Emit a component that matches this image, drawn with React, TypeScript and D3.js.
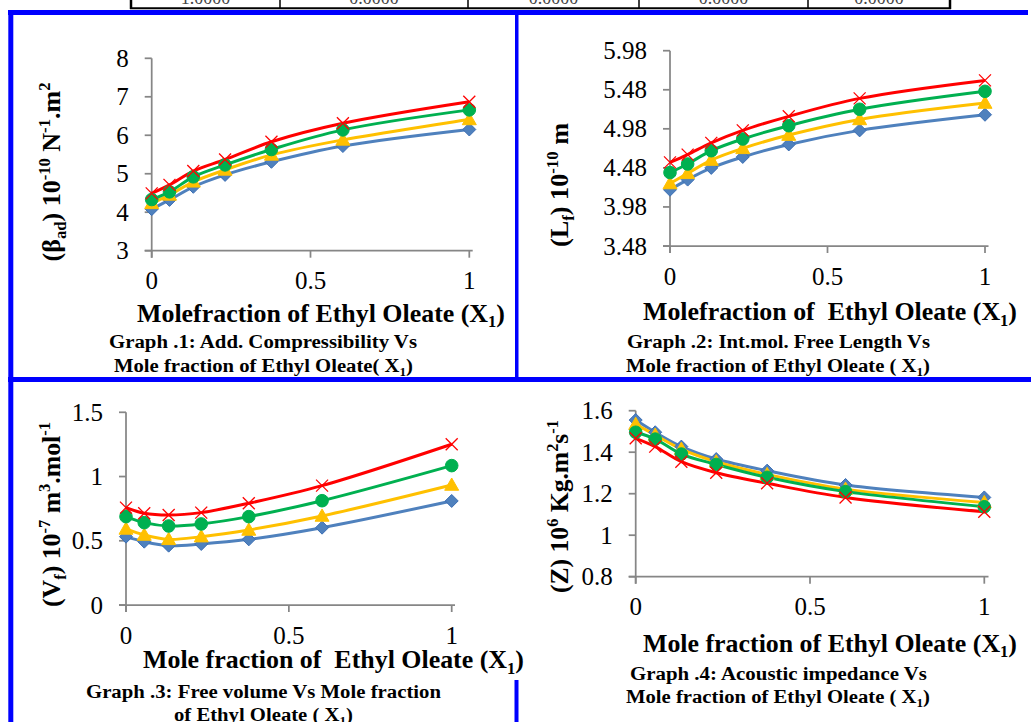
import React from "react";
import * as d3 from "d3";

// ---------- data ----------
const X1 = [0, 0.056, 0.131, 0.231, 0.377, 0.602, 1];
const xTickVals = [0, 0.5, 1];
const xTickLabels = ["0", "0.5", "1"];

const betaBlue = [4.08, 4.32, 4.66, 4.97, 5.31, 5.72, 6.15];
const betaYellow = [4.23, 4.45, 4.79, 5.1, 5.49, 5.88, 6.41];
const betaGreen = [4.33, 4.53, 4.92, 5.23, 5.63, 6.14, 6.66];
const betaRed = [4.49, 4.71, 5.07, 5.37, 5.83, 6.31, 6.87];
const betaTicks = [3, 4, 5, 6, 7, 8];
const betaTickLabels = ["3", "4", "5", "6", "7", "8"];

const lfBlue = [4.2, 4.33, 4.48, 4.62, 4.78, 4.96, 5.16];
const lfYellow = [4.28, 4.41, 4.58, 4.73, 4.9, 5.1, 5.31];
const lfGreen = [4.42, 4.53, 4.7, 4.85, 5.02, 5.23, 5.46];
const lfRed = [4.55, 4.65, 4.8, 4.96, 5.14, 5.37, 5.6];
const lfTicks = [3.48, 3.98, 4.48, 4.98, 5.48, 5.98];
const lfTickLabels = ["3.48", "3.98", "4.48", "4.98", "5.48", "5.98"];

const vfBlue = [0.532, 0.493, 0.462, 0.475, 0.511, 0.602, 0.81];
const vfYellow = [0.592, 0.545, 0.511, 0.532, 0.584, 0.693, 0.934];
const vfGreen = [0.688, 0.641, 0.615, 0.631, 0.688, 0.812, 1.085];
const vfRed = [0.758, 0.714, 0.7, 0.719, 0.792, 0.929, 1.251];
const vfTicks = [0, 0.5, 1, 1.5];
const vfTickLabels = ["0", "0.5", "1", "1.5"];

const zBlue = [1.555, 1.496, 1.427, 1.367, 1.311, 1.242, 1.182];
const zYellow = [1.535, 1.483, 1.415, 1.354, 1.293, 1.222, 1.158];
const zGreen = [1.496, 1.463, 1.391, 1.341, 1.279, 1.21, 1.137];
const zRed = [1.467, 1.427, 1.354, 1.301, 1.25, 1.182, 1.113];
const zTicks = [0.8, 1, 1.2, 1.4, 1.6];
const zTickLabels = ["0.8", "1", "1.2", "1.4", "1.6"];

const tableCells = ["1.0000", "0.0000", "0.0000", "0.0000", "0.0000"];

// ---------- styles ----------
const SERIF = "'Liberation Serif', 'Times New Roman', serif";
const AXIS = "#868686";
const seriesStyle = [
  { color: "#4F81BD", marker: "diamond" },
  { color: "#FFC000", marker: "triangle" },
  { color: "#00B050", marker: "circle" },
  { color: "#FF0000", marker: "x" },
];

type Seg = { t: string; sup?: boolean; sub?: boolean };

function segs(fs: number, list: Seg[]) {
  let shift = 0;
  return list.map((s, i) => {
    const target = s.sup ? -fs * 0.42 : s.sub ? fs * 0.22 : 0;
    const dy = target - shift;
    shift = target;
    return (
      <tspan key={i} dy={dy} fontSize={s.sup || s.sub ? fs * 0.64 : fs}>
        {s.t}
      </tspan>
    );
  });
}

function Marker({ type, x, y, color }: { type: string; x: number; y: number; color: string }) {
  if (type === "diamond") {
    const r = 6.5;
    return (
      <path
        d={`M${x},${y - r}L${x + r},${y}L${x},${y + r}L${x - r},${y}Z`}
        fill={color}
        stroke="#3C6EB4"
        strokeWidth={1}
      />
    );
  }
  if (type === "triangle") {
    const r = 7;
    return (
      <path
        d={`M${x},${y - r}L${x + r},${y + r * 0.75}L${x - r},${y + r * 0.75}Z`}
        fill={color}
        stroke={color}
        strokeWidth={1}
      />
    );
  }
  if (type === "circle") {
    return <circle cx={x} cy={y} r={6.3} fill={color} stroke={color} strokeWidth={1} />;
  }
  const r = 6;
  return (
    <g stroke={color} strokeWidth={1.3}>
      <line x1={x - r} y1={y - r} x2={x + r} y2={y + r} />
      <line x1={x - r} y1={y + r} x2={x + r} y2={y - r} />
    </g>
  );
}

type PanelCfg = {
  x0: number; x1: number; xEnd: number; yTop: number; yBot: number;
  yMin: number; yMax: number; ticks: number[]; tickLabels: string[];
  series: number[][];
  yTitle: Seg[]; yTitleX: number; yTitleCy: number; yTitleLen: number;
  xTitle: Seg[]; xTitleCx: number; xTitleY: number; xTitleLen: number;
  cap: { segs: Seg[]; cx: number; y: number; len: number }[];
};

function Panel({ p }: { p: PanelCfg }) {
  const xs = d3.scaleLinear().domain([0, 1]).range([p.x0, p.x1]);
  const ys = d3.scaleLinear().domain([p.yMin, p.yMax]).range([p.yBot, p.yTop]);
  const line = d3
    .line<number>()
    .x((_, i) => xs(X1[i]))
    .y((d) => ys(d))
    .curve(d3.curveCatmullRom.alpha(0.5));
  return (
    <g>
      {/* axes */}
      <line x1={p.x0} y1={p.yTop} x2={p.x0} y2={p.yBot + 7} stroke={AXIS} strokeWidth={1.75} />
      <line x1={p.x0 - 7} y1={p.yBot} x2={p.xEnd} y2={p.yBot} stroke={AXIS} strokeWidth={1.75} />
      {p.ticks.map((t, i) => (
        <g key={"y" + i}>
          <line x1={p.x0 - 7} x2={p.x0} y1={ys(t)} y2={ys(t)} stroke={AXIS} strokeWidth={1.75} />
          <text x={p.x0 - 23} y={ys(t) + 8.5} textAnchor="end" fontSize={25} fontFamily={SERIF} fill="#000">
            {p.tickLabels[i]}
          </text>
        </g>
      ))}
      {xTickVals.map((t, i) => (
        <g key={"x" + i}>
          <line x1={xs(t)} x2={xs(t)} y1={p.yBot} y2={p.yBot + 7} stroke={AXIS} strokeWidth={1.75} />
          <text x={xs(t)} y={p.yBot + 38.5} textAnchor="middle" fontSize={25} fontFamily={SERIF} fill="#000">
            {xTickLabels[i]}
          </text>
        </g>
      ))}
      {/* series */}
      {p.series.map((s, si) => (
        <path key={"l" + si} d={line(s) || ""} fill="none" stroke={seriesStyle[si].color} strokeWidth={3} />
      ))}
      {p.series.map((s, si) =>
        s.map((v, i) => (
          <Marker key={"m" + si + "_" + i} type={seriesStyle[si].marker} x={xs(X1[i])} y={ys(v)} color={seriesStyle[si].color} />
        ))
      )}
      {/* titles */}
      <text
        transform={`translate(${p.yTitleX},${p.yTitleCy}) rotate(-90)`}
        textAnchor="middle"
        fontFamily={SERIF}
        fontWeight="bold"
        fontSize={25}
        textLength={p.yTitleLen}
        lengthAdjust="spacingAndGlyphs"
        style={{ whiteSpace: "pre" }}
      >
        {segs(25, p.yTitle)}
      </text>
      <text
        x={p.xTitleCx}
        y={p.xTitleY}
        textAnchor="middle"
        fontFamily={SERIF}
        fontWeight="bold"
        fontSize={26}
        textLength={p.xTitleLen}
        lengthAdjust="spacingAndGlyphs"
        style={{ whiteSpace: "pre" }}
      >
        {segs(26, p.xTitle)}
      </text>
      {p.cap.map((c, i) => (
        <text
          key={"c" + i}
          x={c.cx}
          y={c.y}
          textAnchor="middle"
          fontFamily={SERIF}
          fontWeight="bold"
          fontSize={18}
          textLength={c.len}
          lengthAdjust="spacingAndGlyphs"
          style={{ whiteSpace: "pre" }}
        >
          {segs(18, c.segs)}
        </text>
      ))}
    </g>
  );
}

const X1seg: Seg[] = [{ t: "X" }, { t: "1", sub: true }, { t: ")" }];

const panels: PanelCfg[] = [
  {
    x0: 151.7, x1: 469.3, xEnd: 472.7, yTop: 58.3, yBot: 250.7, yMin: 3, yMax: 8,
    ticks: betaTicks, tickLabels: betaTickLabels,
    series: [betaBlue, betaYellow, betaGreen, betaRed],
    yTitle: [{ t: "(β" }, { t: "ad", sub: true }, { t: ") 10" }, { t: "-10", sup: true }, { t: " N" }, { t: "-1", sup: true }, { t: ".m" }, { t: "2", sup: true }],
    yTitleX: 60, yTitleCy: 172, yTitleLen: 179,
    xTitle: [{ t: "Molefraction of Ethyl Oleate (" }, ...X1seg], xTitleCx: 321, xTitleY: 321.7, xTitleLen: 368,
    cap: [
      { segs: [{ t: "Graph .1: Add. Compressibility Vs" }], cx: 263, y: 348, len: 308 },
      { segs: [{ t: "Mole fraction of Ethyl Oleate( X" }, { t: "1", sub: true }, { t: ")" }], cx: 263.5, y: 372, len: 299 },
    ],
  },
  {
    x0: 670, x1: 985, xEnd: 988.5, yTop: 50.7, yBot: 246, yMin: 3.48, yMax: 5.98,
    ticks: lfTicks, tickLabels: lfTickLabels,
    series: [lfBlue, lfYellow, lfGreen, lfRed],
    yTitle: [{ t: "(L" }, { t: "f", sub: true }, { t: ") 10" }, { t: "-10", sup: true }, { t: " m" }],
    yTitleX: 568, yTitleCy: 185, yTitleLen: 124,
    xTitle: [{ t: "Molefraction of  Ethyl Oleate (" }, ...X1seg], xTitleCx: 830, xTitleY: 320, xTitleLen: 374,
    cap: [
      { segs: [{ t: "Graph .2: Int.mol. Free Length Vs" }], cx: 778.5, y: 348, len: 303 },
      { segs: [{ t: "Mole fraction of Ethyl Oleate ( X" }, { t: "1", sub: true }, { t: ")" }], cx: 778, y: 372, len: 304 },
    ],
  },
  {
    x0: 126, x1: 451.7, xEnd: 455, yTop: 412.3, yBot: 605, yMin: 0, yMax: 1.5,
    ticks: vfTicks, tickLabels: vfTickLabels,
    series: [vfBlue, vfYellow, vfGreen, vfRed],
    yTitle: [{ t: "(V" }, { t: "f", sub: true }, { t: ") 10" }, { t: "-7", sup: true }, { t: " m" }, { t: "3", sup: true }, { t: ".mol" }, { t: "-1", sup: true }],
    yTitleX: 60, yTitleCy: 514.5, yTitleLen: 185,
    xTitle: [{ t: "Mole fraction of  Ethyl Oleate (" }, ...X1seg], xTitleCx: 333.5, xTitleY: 668, xTitleLen: 381,
    cap: [
      { segs: [{ t: "Graph .3: Free volume Vs Mole fraction" }], cx: 263.5, y: 697.7, len: 355 },
      { segs: [{ t: "of Ethyl Oleate ( X" }, { t: "1", sub: true }, { t: ")" }], cx: 263.5, y: 721, len: 179 },
    ],
  },
  {
    x0: 635.7, x1: 984.3, xEnd: 988.5, yTop: 410.7, yBot: 576.7, yMin: 0.8, yMax: 1.6,
    ticks: zTicks, tickLabels: zTickLabels,
    series: [zBlue, zYellow, zGreen, zRed],
    yTitle: [{ t: "(Z) 10" }, { t: "6", sup: true }, { t: " Kg.m" }, { t: "2", sup: true }, { t: "s" }, { t: "-1", sup: true }],
    yTitleX: 568, yTitleCy: 506.5, yTitleLen: 173,
    xTitle: [{ t: "Mole fraction of Ethyl Oleate (" }, ...X1seg], xTitleCx: 830, xTitleY: 651.7, xTitleLen: 374,
    cap: [
      { segs: [{ t: "Graph .4: Acoustic impedance Vs" }], cx: 778.5, y: 680, len: 297 },
      { segs: [{ t: "Mole fraction of Ethyl Oleate ( X" }, { t: "1", sub: true }, { t: ")" }], cx: 778, y: 703, len: 304 },
    ],
  },
];

const tableEdges = [131, 280, 468, 639, 808, 950];

export default function App() {
  return (
    <svg
      width={1031}
      height={722}
      viewBox="0 0 1031 722"
      style={{ position: "absolute", left: 0, top: 0, background: "#fff" }}
    >
      <rect x={0} y={0} width={1031} height={722} fill="#fff" />
      {/* table fragment */}
      {tableCells.map((c, i) => (
        <text
          key={"t" + i}
          x={(tableEdges[i] + tableEdges[i + 1]) / 2}
          y={4}
          textAnchor="middle"
          fontFamily={SERIF}
          fontSize={18}
          fill="#444"
        >
          {c}
        </text>
      ))}
      {tableEdges.map((x, i) => (
        <line key={"te" + i} x1={x} x2={x} y1={0} y2={9} stroke="#000" strokeWidth={i === 0 || i === tableEdges.length - 1 ? 2.5 : 1.5} />
      ))}
      <line x1={130} x2={951} y1={8.3} y2={8.3} stroke="#000" strokeWidth={2} />
      {/* blue frame */}
      <rect x={8} y={10} width={1020} height={5} fill="#0000FF" />
      <rect x={8.3} y={10} width={5} height={712} fill="#0000FF" />
      <rect x={515} y={10} width={3.5} height={368} fill="#0000FF" />
      <rect x={8} y={377} width={1023} height={5} fill="#0000FF" />
      <rect x={514.5} y={680} width={4} height={42} fill="#0000FF" />
      {panels.map((p, i) => (
        <Panel key={i} p={p} />
      ))}
    </svg>
  );
}
